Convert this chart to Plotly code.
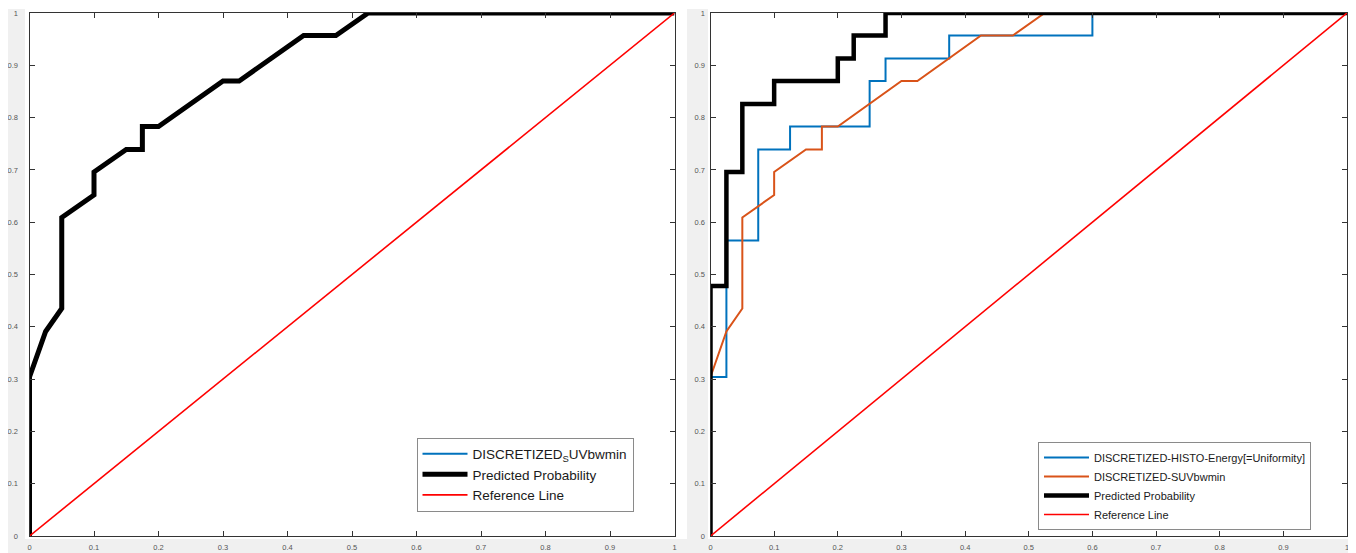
import plotly.graph_objects as go

# ---------------- data ----------------
# Left panel: single-variable model (SUVbwmin)
suv_fpr = [0, 0, 0.025, 0.05, 0.05, 0.1, 0.1, 0.15, 0.175, 0.175, 0.2, 0.3, 0.325, 0.425, 0.475, 0.525, 1]
suv_tpr = [0, 0.304, 0.391, 0.435, 0.609, 0.652, 0.696, 0.739, 0.739, 0.783, 0.783, 0.870, 0.870, 0.957, 0.957, 1, 1]
left_pred_fpr = suv_fpr
left_pred_tpr = suv_tpr

# Right panel
histo_fpr = [0, 0, 0.025, 0.025, 0.075, 0.075, 0.125, 0.125, 0.25, 0.25, 0.275, 0.275, 0.375, 0.375, 0.6, 0.6, 1]
histo_tpr = [0, 0.304, 0.304, 0.565, 0.565, 0.739, 0.739, 0.783, 0.783, 0.870, 0.870, 0.913, 0.913, 0.957, 0.957, 1, 1]
right_pred_fpr = [0, 0, 0.025, 0.025, 0.05, 0.05, 0.1, 0.1, 0.2, 0.2, 0.225, 0.225, 0.275, 0.275, 1]
right_pred_tpr = [0, 0.478, 0.478, 0.696, 0.696, 0.826, 0.826, 0.870, 0.870, 0.913, 0.913, 0.957, 0.957, 1, 1]

ref_x = [0, 1]
ref_y = [0, 1]

tick_vals = [0, 0.1, 0.2, 0.3, 0.4, 0.5, 0.6, 0.7, 0.8, 0.9, 1]
tick_text = ["0", "0.1", "0.2", "0.3", "0.4", "0.5", "0.6", "0.7", "0.8", "0.9", "1"]

BLUE = "#0072BD"
ORANGE = "#D95319"
RED = "#FF0000"
BLACK = "#000000"

# page body has an 8px margin: shift the figure so it lands on the reference pixels
OFF = 8
W, H = 1356 - OFF, 553 - OFF

fig = go.Figure()

# left panel
fig.add_trace(go.Scatter(x=suv_fpr, y=suv_tpr, mode="lines", name="DISCRETIZED<sub>S</sub>UVbwmin",
                         line=dict(color=BLUE, width=2), xaxis="x", yaxis="y", legend="legend"))
fig.add_trace(go.Scatter(x=left_pred_fpr, y=left_pred_tpr, mode="lines", name="Predicted Probability",
                         line=dict(color=BLACK, width=5), xaxis="x", yaxis="y", legend="legend"))
fig.add_trace(go.Scatter(x=ref_x, y=ref_y, mode="lines", name="Reference Line",
                         line=dict(color=RED, width=1.6), xaxis="x", yaxis="y", legend="legend"))

# right panel
fig.add_trace(go.Scatter(x=histo_fpr, y=histo_tpr, mode="lines", name="DISCRETIZED-HISTO-Energy[=Uniformity]",
                         line=dict(color=BLUE, width=2), xaxis="x2", yaxis="y2", legend="legend2"))
fig.add_trace(go.Scatter(x=suv_fpr, y=suv_tpr, mode="lines", name="DISCRETIZED-SUVbwmin",
                         line=dict(color=ORANGE, width=2), xaxis="x2", yaxis="y2", legend="legend2"))
fig.add_trace(go.Scatter(x=right_pred_fpr, y=right_pred_tpr, mode="lines", name="Predicted Probability",
                         line=dict(color=BLACK, width=4.5), xaxis="x2", yaxis="y2", legend="legend2"))
fig.add_trace(go.Scatter(x=ref_x, y=ref_y, mode="lines", name="Reference Line",
                         line=dict(color=RED, width=1.6), xaxis="x2", yaxis="y2", legend="legend2"))

def px_x(p):
    return (p - OFF) / W

def px_y(p):
    return 1 - (p - OFF) / H

axis_common = dict(
    range=[0, 1], tickvals=tick_vals, ticktext=tick_text,
    ticks="inside", ticklen=5, tickwidth=1, tickcolor="#333333",
    showline=True, linecolor="#333333", linewidth=1, mirror="ticks",
    showgrid=False, zeroline=False, automargin=False, fixedrange=True,
    tickfont=dict(family="Liberation Sans, Arial, sans-serif", size=7.5, color="#555555"),
)

fig.update_layout(
    width=W, height=H,
    margin=dict(l=0, r=0, t=0, b=0),
    paper_bgcolor="#ffffff", plot_bgcolor="#ffffff",
    showlegend=True,
    xaxis=dict(domain=[px_x(29.5), px_x(674.5)], anchor="y", ticklabelstandoff=4, **axis_common),
    yaxis=dict(domain=[px_y(536), px_y(13)], anchor="x", ticklabelstandoff=9, **axis_common),
    xaxis2=dict(domain=[px_x(710.5), px_x(1347)], anchor="y2", ticklabelstandoff=4, **axis_common),
    yaxis2=dict(domain=[px_y(536), px_y(13)], anchor="x2", ticklabelstandoff=3, **axis_common),
    legend=dict(x=px_x(416.5), y=px_y(437.5), xanchor="left", yanchor="top",
                bgcolor="#ffffff", bordercolor="#8a8a8a", borderwidth=1,
                font=dict(family="Liberation Sans, Arial, sans-serif", size=13.5, color="#1a1a1a"),
                itemwidth=45, tracegroupgap=0),
    legend2=dict(x=px_x(1038), y=px_y(486), xanchor="left", yanchor="middle",
                 bgcolor="#ffffff", bordercolor="#8a8a8a", borderwidth=1,
                 font=dict(family="Liberation Sans, Arial, sans-serif", size=11, color="#1a1a1a"),
                 itemwidth=45, tracegroupgap=0),
    shapes=[
        dict(type="rect", xref="paper", yref="paper", x0=0, x1=px_x(25), y0=0, y1=px_y(9),
             fillcolor="#f0f0f0", line=dict(width=0), layer="below"),
        dict(type="rect", xref="paper", yref="paper", x0=px_x(687), x1=px_x(708), y0=0, y1=px_y(9),
             fillcolor="#f0f0f0", line=dict(width=0), layer="below"),
        dict(type="rect", xref="paper", yref="paper", x0=0, x1=1, y0=0, y1=px_y(539),
             fillcolor="#f0f0f0", line=dict(width=0), layer="below"),
    ],
)

fig.write_html("out.html")
